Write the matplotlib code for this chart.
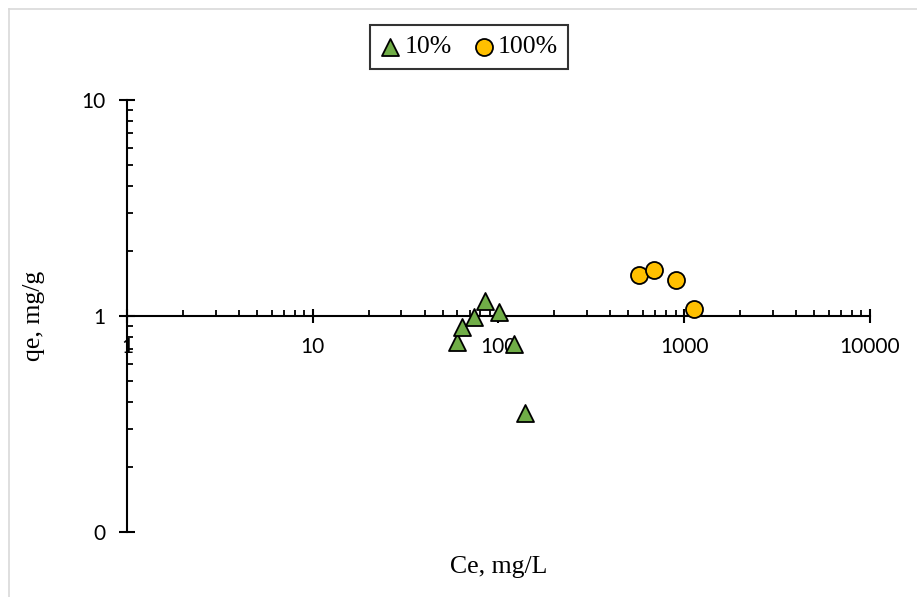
import matplotlib
matplotlib.use("Agg")
import matplotlib.pyplot as plt
from matplotlib.lines import Line2D
from matplotlib.ticker import LogLocator, FuncFormatter, NullFormatter

# isotherm data, Ce (mg/L) vs qe (mg/g)
ce_10 = [59.8, 63.6, 73.8, 84.6, 100.6, 121.2, 138.9]
qe_10 = [0.758, 0.889, 0.989, 1.173, 1.043, 0.742, 0.356]

ce_100 = [572.8, 687.6, 899.0, 1128.0]
qe_100 = [1.548, 1.633, 1.468, 1.077]

series_labels = ["10%", "100%"]

serif = "Liberation Serif"
sans = "Lato"

fig = plt.figure(figsize=(9.17, 5.97), dpi=100)
ax = fig.add_axes([0.1385, 0.1089, 0.8102, 0.7236])

ax.scatter(ce_10, qe_10, marker="^", s=150, color="#70AD47",
           edgecolor="black", linewidth=1.3, zorder=3, label=series_labels[0])
ax.scatter(ce_100, qe_100, marker="o", s=150, color="#FFC000",
           edgecolor="black", linewidth=1.3, zorder=3, label=series_labels[1])

ax.set_xscale("log")
ax.set_yscale("log")
ax.set_xlim(1, 10000)
ax.set_ylim(0.1, 10)

# axes cross at (1, 1)
ax.spines["top"].set_visible(False)
ax.spines["right"].set_visible(False)
ax.spines["bottom"].set_position(("data", 1))
for s in ("left", "bottom"):
    ax.spines[s].set_linewidth(1.5)

fmt = FuncFormatter(lambda v, p: "%.0f" % v)
ax.xaxis.set_major_locator(LogLocator(base=10, numticks=10))
ax.yaxis.set_major_locator(LogLocator(base=10, numticks=10))
ax.xaxis.set_minor_locator(LogLocator(base=10, subs=range(2, 10), numticks=10))
ax.yaxis.set_minor_locator(LogLocator(base=10, subs=range(2, 10), numticks=10))
ax.xaxis.set_major_formatter(fmt)
ax.yaxis.set_major_formatter(fmt)
ax.xaxis.set_minor_formatter(NullFormatter())
ax.yaxis.set_minor_formatter(NullFormatter())

ax.tick_params(axis="x", which="major", direction="inout", length=10, width=1.5,
               pad=10, labelsize=15)
ax.tick_params(axis="x", which="minor", direction="in", length=4.5, width=1.3)
ax.tick_params(axis="y", which="major", direction="inout", length=11, width=1.5,
               pad=10, labelsize=15)
ax.tick_params(axis="y", which="minor", direction="in", length=4.5, width=1.3)
for lab in ax.get_xticklabels() + ax.get_yticklabels():
    lab.set_fontfamily(sans)

ax.set_xlabel("Ce, mg/L", fontfamily=serif, fontsize=18.5)
ax.xaxis.set_label_coords(0.5, -0.056)
ax.set_ylabel("qe, mg/g", fontfamily=serif, fontsize=18.5)
ax.yaxis.set_label_coords(-0.11, 0.5)

leg = fig.legend(loc="center", bbox_to_anchor=(0.5115, 0.9213), ncol=2,
                 prop={"family": serif, "size": 18.5}, frameon=True, fancybox=False,
                 handlelength=0.8, handletextpad=0.15, columnspacing=0.85,
                 borderpad=0.4, markerscale=1.0)
leg.get_frame().set_edgecolor("black")
leg.get_frame().set_linewidth(1.5)

# chart area border (top and left edges)
fig.add_artist(Line2D([8.5 / 917, 1], [1 - 8.5 / 597] * 2, color="#d9d9d9",
                      linewidth=1.2, transform=fig.transFigure))
fig.add_artist(Line2D([8.5 / 917] * 2, [0, 1 - 8.5 / 597], color="#d9d9d9",
                      linewidth=1.2, transform=fig.transFigure))

fig.savefig("out.png", dpi=100)
